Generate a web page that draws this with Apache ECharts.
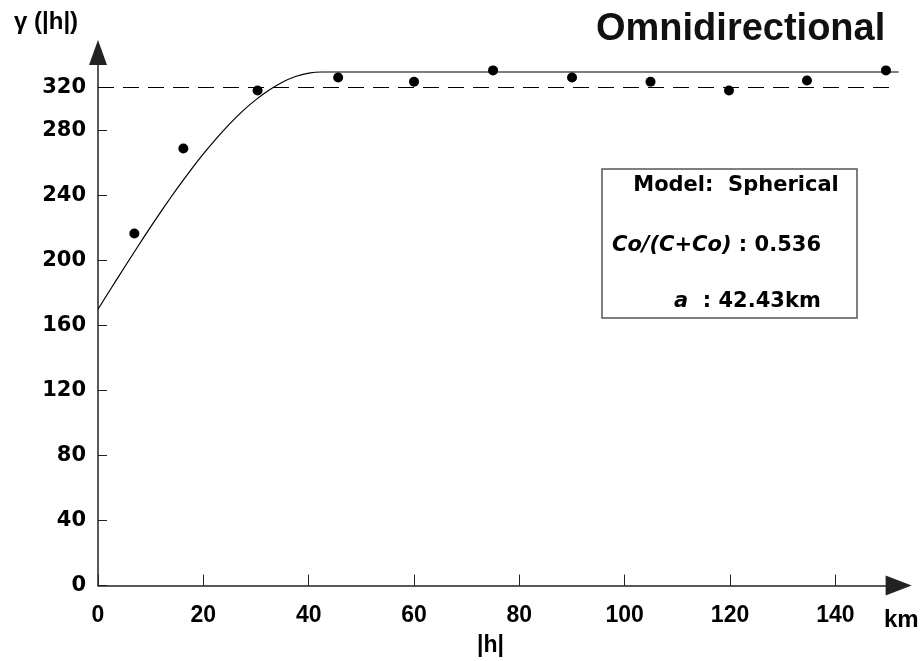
<!DOCTYPE html>
<html><head><meta charset="utf-8">
<script src="https://cdn.jsdelivr.net/npm/echarts@6/dist/echarts.min.js"></script>
<style>html,body{margin:0;padding:0;background:#fff}#c{width:922px;height:661px}</style>
</head><body><div id="c"></div>
<script>
// Experimental semivariogram points (lag km, gamma)
const sampleLag = [6.9, 16.2, 30.3, 45.6, 60, 75, 90, 104.9, 119.8, 134.6, 149.6];
const sampleGamma = [216.6, 268.9, 304.6, 312.6, 310, 317, 312.6, 310, 304.6, 310.8, 317];
// Fitted spherical model curve
const modelLag = [0, 2.5, 5, 7.5, 10, 12.5, 15, 17.5, 20, 22.5, 25, 27.5, 30, 32.5, 35, 37.5, 40, 42.43, 152];
const modelGamma = [170, 182.9, 195.7, 208.3, 220.7, 232.7, 244.2, 255.2, 265.6, 275.2, 284.1, 292.1, 299, 304.9, 309.7, 313.2, 315.3, 316, 316];
// Dashed reference (sample variance) line
const varianceLine = 306.5;
const varianceLineEnd = 150.5;
// Tick labels
const xTickValues = [0, 20, 40, 60, 80, 100, 120, 140];
const yTickValues = [0, 40, 80, 120, 160, 200, 240, 280, 306.5];
const yTickLabels = ['0', '40', '80', '120', '160', '200', '240', '280', '320'];

const chart = echarts.init(document.getElementById('c'), null, {renderer: 'canvas'});
const axisCol = '#222';
chart.setOption({
  animation: false,
  backgroundColor: '#fff',
  grid: {left: 98, right: 23.4, top: 52.5, bottom: 75.5},
  xAxis: {
    type: 'value', min: 0, max: 152, interval: 20,
    axisLine: {show: true, onZero: false, symbol: ['none', 'triangle'], symbolSize: [20, 26], lineStyle: {color: axisCol, width: 1.5}},
    axisTick: {show: true, inside: true, length: 11, customValues: xTickValues, lineStyle: {color: axisCol, width: 1}},
    axisLabel: {customValues: xTickValues, margin: 19, color: '#000', fontFamily: 'Liberation Sans', fontWeight: 'bold', fontSize: 23},
    splitLine: {show: false}
  },
  yAxis: {
    type: 'value', min: 0, max: 328, interval: 40,
    axisLine: {show: true, onZero: false, symbol: ['none', 'triangle'], symbolSize: [18, 25], lineStyle: {color: axisCol, width: 1.5}},
    axisTick: {show: true, inside: true, length: 9, customValues: yTickValues, lineStyle: {color: axisCol, width: 1}},
    axisLabel: {
      customValues: yTickValues, margin: 12, color: '#000', fontFamily: 'DejaVu Sans', fontWeight: 'bold', fontSize: 21,
      formatter: function (v) { const i = yTickValues.indexOf(v); return i >= 0 ? yTickLabels[i] : ''; }
    },
    splitLine: {show: false}
  },
  series: [
    {
      type: 'line', data: modelLag.map((x, i) => [x, modelGamma[i]]),
      showSymbol: false, smooth: 0.2, lineStyle: {color: '#000', width: 1.2}, z: 2,
      markLine: {
        silent: true, symbol: ['none', 'none'], label: {show: false},
        lineStyle: {color: '#000', type: [16, 9], width: 1.2},
        data: [[{coord: [0, varianceLine]}, {coord: [varianceLineEnd, varianceLine]}]]
      }
    },
    {
      type: 'scatter', data: sampleLag.map((x, i) => [x, sampleGamma[i]]),
      symbol: 'circle', symbolSize: 10, itemStyle: {color: '#000', opacity: 1}, z: 3
    }
  ],
  graphic: [
    {type: 'text', left: 596, top: 11, style: {text: 'Omnidirectional', font: 'bold 38px "Liberation Sans"', fill: '#111'}},
    {type: 'text', left: 14, top: 10, style: {text: 'γ (|h|)', font: 'bold 24px "Liberation Sans"', fill: '#000'}},
    {type: 'text', left: 884, top: 608, style: {text: 'km', font: 'bold 24px "Liberation Sans"', fill: '#000'}},
    {type: 'text', left: 477, top: 634, style: {text: '|h|', font: 'bold 23px "Liberation Sans"', fill: '#000'}},
    {type: 'rect', shape: {x: 602, y: 169, width: 255, height: 149}, style: {fill: '#fff', stroke: '#555', lineWidth: 1.5}, z: 10},
    {type: 'text', x: 736, y: 186, z: 11, style: {text: 'Model:  Spherical', font: 'bold 21px "DejaVu Sans"', fill: '#000', align: 'center', verticalAlign: 'middle'}},
    {type: 'text', x: 612, y: 246, z: 11, style: {
      text: '{i|Co/(C+Co)}{n| : 0.536}', verticalAlign: 'middle', align: 'left',
      rich: {i: {font: 'italic bold 21px "DejaVu Sans"', fill: '#000'}, n: {font: 'bold 21px "DejaVu Sans"', fill: '#000'}}
    }},
    {type: 'text', x: 674, y: 302, z: 11, style: {
      text: '{i|a}{n|  : 42.43km}', verticalAlign: 'middle', align: 'left',
      rich: {i: {font: 'italic bold 21px "DejaVu Sans"', fill: '#000'}, n: {font: 'bold 21px "DejaVu Sans"', fill: '#000'}}
    }}
  ]
});
</script></body></html>
